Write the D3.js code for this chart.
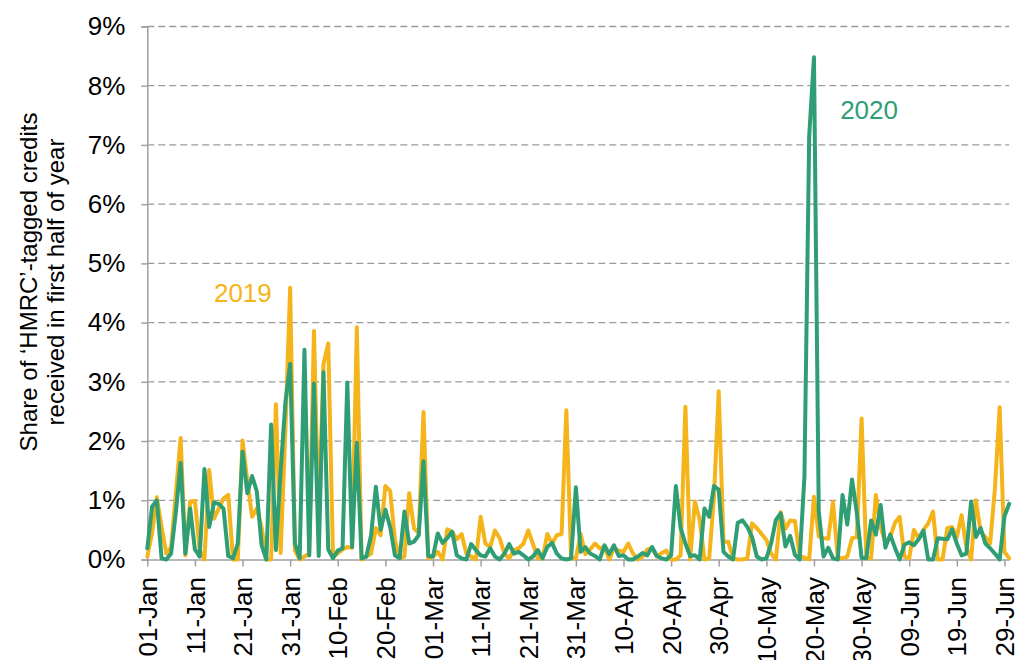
<!DOCTYPE html>
<html><head><meta charset="utf-8">
<script src="https://cdn.jsdelivr.net/npm/d3@7"></script>
<style>
html,body{margin:0;padding:0;background:#fff;}
svg{display:block;font-family:"Liberation Sans",Arial,sans-serif;}
</style></head>
<body><svg id="c" width="1017" height="660"></svg>
<script>
// Day index 0 = 01-Jan ... 181 = 30-Jun
const tickDays = [0,10,20,30,40,50,60,70,80,90,100,110,120,130,140,150,160,170,180];
const tickLabels = ["01-Jan","11-Jan","21-Jan","31-Jan","10-Feb","20-Feb","01-Mar","11-Mar","21-Mar","31-Mar","10-Apr","20-Apr","30-Apr","10-May","20-May","30-May","09-Jun","19-Jun","29-Jun"];
const yTicks = [0,1,2,3,4,5,6,7,8,9];

const s2019 = [0.05,0.44,1.05,0.55,0.10,0.21,1.12,2.05,0.07,0.98,
0.99,0.16,0.00,1.51,0.69,0.86,1.03,1.09,0.00,0.00,
2.01,1.34,0.72,0.86,0.55,0.00,0.00,2.62,0.11,2.20,
4.59,0.15,0.00,0.05,0.10,3.86,0.60,3.30,3.65,0.05,
0.10,0.17,0.21,0.20,3.92,0.00,0.05,0.10,0.53,0.41,
1.24,1.16,0.33,0.02,0.05,1.12,0.53,0.44,2.49,0.02,
0.05,0.13,0.00,0.51,0.47,0.34,0.43,0.10,0.05,0.00,
0.72,0.27,0.21,0.49,0.36,0.10,0.02,0.16,0.19,0.27,
0.49,0.26,0.02,0.02,0.43,0.27,0.41,0.43,2.52,0.02,
0.02,0.43,0.09,0.17,0.27,0.19,0.21,0.00,0.19,0.15,
0.13,0.27,0.10,0.00,0.05,0.17,0.19,0.05,0.11,0.15,
0.00,0.00,0.07,2.58,0.00,0.98,0.67,0.00,0.02,1.06,
2.84,0.30,0.30,0.02,0.00,0.00,0.02,0.61,0.53,0.43,
0.33,0.10,0.00,0.80,0.52,0.66,0.65,0.06,0.03,0.00,
1.06,0.39,0.36,0.35,0.97,0.03,0.02,0.05,0.36,0.38,
2.38,0.02,0.02,1.09,0.55,0.28,0.38,0.62,0.72,0.05,
0.02,0.50,0.36,0.50,0.61,0.81,0.00,0.00,0.53,0.55,
0.38,0.75,0.21,0.00,1.00,0.47,0.38,0.27,1.20,2.57,
0.13,0.02];

const s2020 = [0.19,0.89,1.00,0.02,0.00,0.10,0.80,1.63,0.10,0.86,
0.17,0.05,1.53,0.55,0.96,0.94,0.86,0.06,0.02,0.27,
1.82,1.12,1.41,1.15,0.24,0.00,2.28,0.16,1.50,2.65,
3.30,0.27,0.02,3.54,0.07,2.97,0.06,3.16,0.17,0.02,
0.15,0.19,2.99,0.21,1.97,0.02,0.05,0.41,1.23,0.50,
0.84,0.55,0.07,0.02,0.81,0.27,0.30,0.41,1.66,0.06,
0.05,0.44,0.28,0.36,0.47,0.07,0.02,0.00,0.26,0.16,
0.07,0.05,0.19,0.05,0.00,0.10,0.26,0.10,0.13,0.07,
0.00,0.05,0.16,0.02,0.21,0.28,0.10,0.02,0.00,0.02,
1.22,0.13,0.21,0.10,0.06,0.00,0.24,0.09,0.24,0.06,
0.07,0.00,0.00,0.05,0.11,0.07,0.21,0.06,0.02,0.00,
0.07,1.24,0.53,0.27,0.06,0.07,0.00,0.86,0.72,1.24,
1.18,0.13,0.05,0.00,0.62,0.66,0.55,0.38,0.05,0.00,
0.02,0.27,0.67,0.78,0.22,0.40,0.08,0.00,1.40,7.15,
8.48,0.82,0.05,0.20,0.02,0.00,1.09,0.59,1.35,0.79,
0.03,0.02,0.66,0.42,0.92,0.20,0.42,0.20,0.00,0.25,
0.29,0.24,0.34,0.49,0.00,0.00,0.36,0.35,0.34,0.51,
0.27,0.07,0.10,0.98,0.38,0.53,0.27,0.19,0.10,0.00,
0.73,0.94];

const seriesNames = ["2019","2020"];
const colors = {"2019":"#F4B41A","2020":"#2F9E74"};

const svg = d3.select("#c");
const x = d3.scaleLinear().domain([0,181]).range([147.3,1009.2]);
const y = d3.scaleLinear().domain([0,9]).range([559.5,26.5]);
const grey = "#A0A0A0";

// gridlines
svg.append("g").selectAll("line").data(yTicks.slice(1)).join("line")
  .attr("x1",x(0)).attr("x2",x(181)).attr("y1",d=>y(d)).attr("y2",d=>y(d))
  .attr("stroke","#9A9A9A").attr("stroke-width",1.3).attr("stroke-dasharray","7,4");

// y axis
const yAxis = d3.axisLeft(y).tickValues(yTicks).tickFormat(d=>d+"%").tickSize(6).tickPadding(16);
const gy = svg.append("g").attr("transform",`translate(${x(0)},0)`).call(yAxis);
gy.select(".domain").attr("stroke",grey).attr("stroke-width",1.5);
gy.selectAll(".tick line").attr("stroke",grey).attr("stroke-width",1.5);
gy.selectAll(".tick text").attr("font-size",26).attr("fill","#000").attr("font-family","Liberation Sans, Arial, sans-serif");

// x axis
const xAxis = d3.axisBottom(x).tickValues(tickDays).tickFormat((d,i)=>tickLabels[i]).tickSize(7).tickSizeOuter(0);
const gx = svg.append("g").attr("transform",`translate(0,${y(0)})`).call(xAxis);
gx.select(".domain").attr("stroke",grey).attr("stroke-width",1.5);
gx.selectAll(".tick line").attr("stroke",grey).attr("stroke-width",1.5);
gx.selectAll(".tick text").attr("font-size",26).attr("fill","#000").attr("font-family","Liberation Sans, Arial, sans-serif")
  .attr("text-anchor","end").attr("dy","0.35em").attr("transform","translate(0,4) rotate(-90)").attr("x",-13.5).attr("y",0);

// lines
const line = d3.line().x((d,i)=>x(i)).y(d=>y(d));
[s2019,s2020].forEach((s,k)=>{
  svg.append("path").datum(s).attr("d",line).attr("fill","none")
    .attr("stroke",colors[seriesNames[k]]).attr("stroke-width",4).attr("stroke-linejoin","round").attr("stroke-linecap","round");
});

// series labels
svg.append("text").attr("x",x(14)).attr("y",y(4.5)).attr("dy","0.35em").attr("font-size",26)
  .attr("fill",colors["2019"]).text(seriesNames[0]);
svg.append("text").attr("x",x(145.5)).attr("y",y(7.6)).attr("dy","0.35em").attr("font-size",26)
  .attr("fill",colors["2020"]).text(seriesNames[1]);

// y title
const t = svg.append("text").attr("transform","translate(44,282) rotate(-90)").attr("text-anchor","middle").attr("font-size",24).attr("fill","#000");
t.append("tspan").attr("x",0).attr("dy","-0.3em").text("Share of \u2018HMRC\u2019-tagged credits");
t.append("tspan").attr("x",0).attr("dy","1.15em").text("received in first half of year");
</script></body></html>
